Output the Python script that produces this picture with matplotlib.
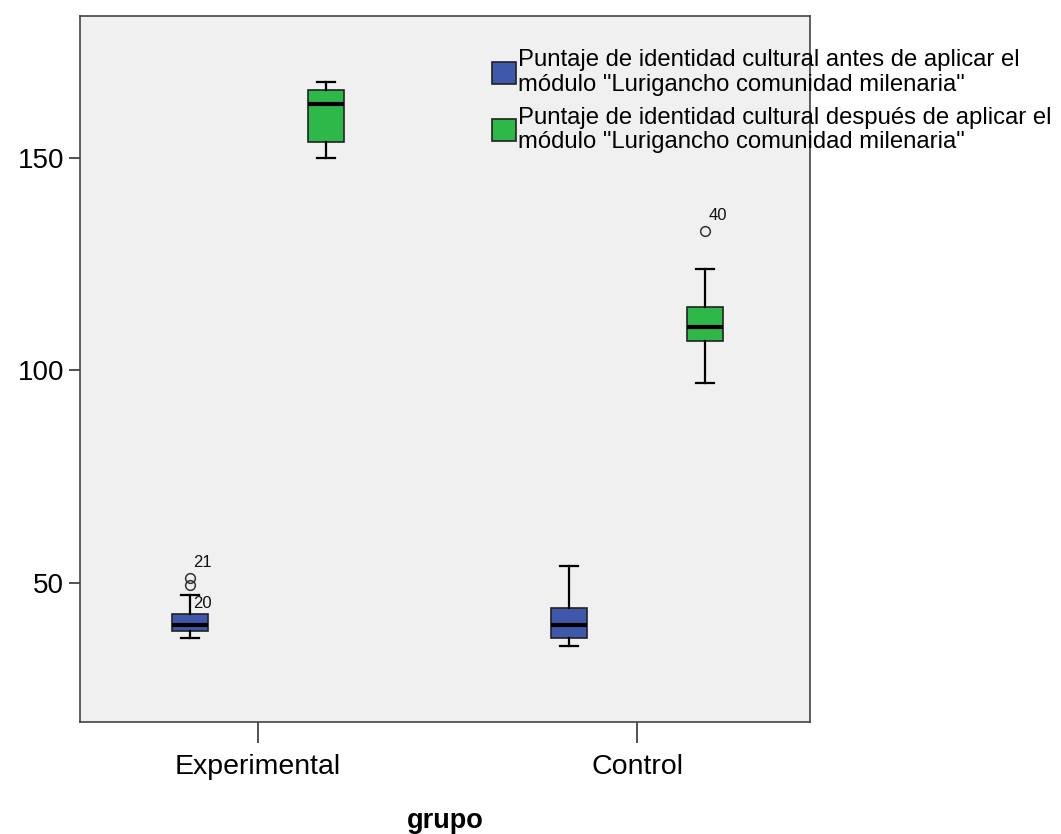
import matplotlib.pyplot as plt
from matplotlib.patches import Patch

plt.rcParams['font.family'] = ['Liberation Sans', 'DejaVu Sans']

# === Data ===
groups = ['Experimental', 'Control']
series = ['Puntaje de identidad cultural antes de aplicar el\nmódulo "Lurigancho comunidad milenaria"',
          'Puntaje de identidad cultural después de aplicar el\nmódulo "Lurigancho comunidad milenaria"']
# order: [Experimental, Control] per series
antes_whislo = [37.1, 35.2]
antes_q1 = [38.7, 37.1]
antes_med = [40.1, 40.1]
antes_q3 = [42.7, 44.1]
antes_whishi = [47.2, 54.0]
antes_fliers = [[49.5, 51.2], []]
despues_whislo = [150.0, 97.0]
despues_q1 = [153.8, 107.0]
despues_med = [162.7, 110.2]
despues_q3 = [166.0, 115.0]
despues_whishi = [167.9, 123.9]
despues_fliers = [[], [132.8]]
outlier_labels = [('21', 0, 'antes', 51.2), ('20', 0, 'antes', 49.5), ('40', 1, 'despues', 132.8)]

colors = ['#3F58AB', '#2FB84A']
offsets = [-0.18, 0.18]
box_w = 0.095

fig = plt.figure(figsize=(10.61, 8.34), dpi=100)
ax = fig.add_axes([0.0754, 0.1343, 0.688, 0.8465])
ax.set_facecolor('#F0F0F0')


def make_stats(lo, q1, med, q3, hi, fl):
    return [dict(whislo=lo[i], q1=q1[i], med=med[i], q3=q3[i], whishi=hi[i], fliers=fl[i])
            for i in range(len(groups))]


all_stats = [make_stats(antes_whislo, antes_q1, antes_med, antes_q3, antes_whishi, antes_fliers),
             make_stats(despues_whislo, despues_q1, despues_med, despues_q3, despues_whishi, despues_fliers)]

for s, stats in enumerate(all_stats):
    pos = [g + 1 + offsets[s] for g in range(len(groups))]
    ax.bxp(stats, positions=pos, widths=box_w, capwidths=box_w * 0.5, patch_artist=True,
           boxprops=dict(facecolor=colors[s], edgecolor='#222222', linewidth=1.2),
           medianprops=dict(color='black', linewidth=3),
           whiskerprops=dict(color='black', linewidth=1.6),
           capprops=dict(color='black', linewidth=1.6),
           flierprops=dict(marker='o', markersize=7, markerfacecolor='none',
                           markeredgecolor='#333333', markeredgewidth=1.1))

for lab, g, ser, val in outlier_labels:
    s = 0 if ser == 'antes' else 1
    x = g + 1 + offsets[s] + 0.008
    dy = 3.6 if lab != '20' else -4.3
    ax.text(x, val + dy, lab, fontsize=12, ha='left', va='center', color='#111111')

ax.set_xlim(0.53, 2.456)
ax.set_ylim(17.3, 183.4)
ax.set_xticks([1, 2])
ax.set_xticklabels(groups, fontsize=20.5)
ax.set_yticks([50, 100, 150])
ax.tick_params(axis='y', labelsize=20, length=8, width=1.2, colors='#333333', labelcolor='black')
ax.tick_params(axis='x', length=15, width=1.2, pad=8, colors='#333333', labelcolor='black')
for sp in ax.spines.values():
    sp.set_color('#444444')
    sp.set_linewidth(1.2)
ax.set_xlabel('grupo', fontsize=19.5, fontweight='bold', labelpad=20)

handles = [Patch(facecolor=colors[i], edgecolor='#222222', linewidth=1.2) for i in range(2)]
leg = fig.legend(handles, series, loc='upper left', bbox_to_anchor=(0.4637, 0.941), frameon=False,
                 fontsize=17.2, handlelength=1.0, handleheight=1.05, handletextpad=0.1,
                 labelspacing=0.45, borderaxespad=0, borderpad=0)
for t in leg.get_texts():
    t.set_linespacing(1.15)

plt.savefig('out.png', dpi=100)
